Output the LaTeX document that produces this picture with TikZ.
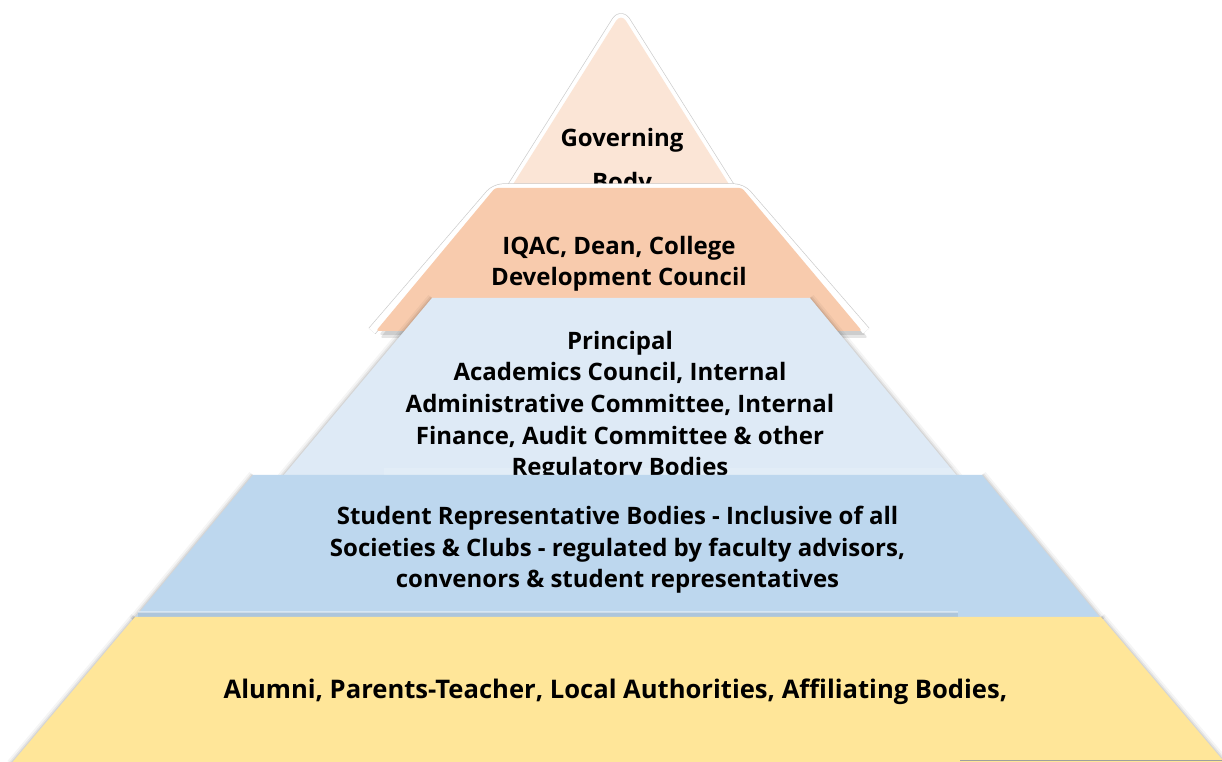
\documentclass[tikz,border=0pt]{standalone}
\usepackage{fontspec}
\IfFontExistsTF{Open Sans SemiBold}{\setmainfont{Open Sans}[BoldFont={Open Sans SemiBold}]}{\setmainfont{Open Sans}}
\definecolor{tricol}{RGB}{251,229,214}
\definecolor{iqaccol}{RGB}{248,203,173}
\definecolor{princol}{RGB}{222,234,246}
\definecolor{studcol}{RGB}{189,215,238}
\definecolor{alumcol}{RGB}{255,230,153}
\tikzset{
  lbl/.style={align=center, inner sep=0pt, text=black, font=\fontsize{18}{23.8}\selectfont\bfseries},
  glowgrey/.style={draw=gray!40, line width=6.8pt, line join=round},
  glowwhite/.style={draw=white, line width=5.8pt, line join=round},
  soft1/.style={draw=black, opacity=0.04, line width=7pt, line cap=butt},
  soft2/.style={draw=black, opacity=0.06, line width=4pt, line cap=butt},
  soft3/.style={draw=black, opacity=0.07, line width=1.8pt, line cap=butt},
}
\begin{document}
\begin{tikzpicture}[x=0.75pt,y=-0.75pt]
\useasboundingbox (0,0) rectangle (1222,762);
\fill[white] (0,0) rectangle (1222,762);

% ---- tier 1 : triangle
\path[glowgrey, rounded corners=7pt] (500,205) -- (621,13) -- (742,205);
\path[glowwhite, rounded corners=7pt] (500,205) -- (621,13) -- (742,205);
\fill[tricol, rounded corners=7pt] (500,205) -- (621,13) -- (742,205) -- cycle;
\node[lbl, font=\fontsize{18}{33}\selectfont\bfseries, anchor=base] (gov) at (622,191) {Governing\\Body};

% ---- tier 2 : IQAC
\fill[black, opacity=0.10, rounded corners=2pt] (379,335) -- (497,192) -- (745,192) -- (866,335) -- cycle;
\fill[black, opacity=0.10, rounded corners=2pt] (380,338) -- (498,194) -- (746,194) -- (868,338) -- cycle;
\path[glowgrey, rounded corners=6pt] (372,331) -- (495,188) -- (742,188) -- (866,331);
\path[glowwhite, rounded corners=6pt] (372,331) -- (495,188) -- (742,188) -- (866,331);
\fill[iqaccol, rounded corners=2pt] (376,331) -- (495,188) -- (742,188) -- (862,331) -- cycle;
\node[lbl, anchor=base] (iqac) at (619,286) {IQAC, Dean, College\\Development Council};

% ---- tier 3 : Principal
\foreach \s in {soft1,soft2,soft3}{
  \path[\s] (278,482) -- (432,298);
  \path[\s] (810,298) -- (962,482);
}
\fill[princol] (278,482) -- (432,298) -- (810,298) -- (962,482) -- cycle;
\fill[white, opacity=0.15] (384,468) rectangle (958,475);
\node[lbl, anchor=base] (prin) at (620,476) {Principal\\Academics Council, Internal\\Administrative Committee, Internal\\Finance, Audit Committee \& other\\Regulatory Bodies};

% ---- tier 4 : Student bodies
\foreach \s in {soft1,soft2,soft3}{
  \path[\s] (133,620) -- (253,475);
  \path[\s] (982,475) -- (1102,620);
}
\fill[studcol] (133,620) -- (253,475) -- (982,475) -- (1102,620) -- cycle;
\fill[black!8!studcol] (138,612) rectangle (958,618);
\draw[white, opacity=0.4, line width=0.8pt] (138,612) -- (958,612);
\node[lbl, anchor=base] (stud) at (617.5,588) {Student Representative Bodies - Inclusive of all\\Societies \& Clubs - regulated by faculty advisors,\\convenors \& student representatives};

% ---- tier 5 : Alumni
\foreach \s in {soft1,soft2,soft3}{
  \path[\s] (11,764) -- (135,617);
  \path[\s] (1101,617) -- (1226,764);
}
\fill[alumcol] (11,764) -- (135,617) -- (1101,617) -- (1226,764) -- cycle;
\node[lbl, font=\fontsize{19.2}{23.8}\selectfont\bfseries, anchor=base] (alum) at (615.5,699) {Alumni, Parents-Teacher, Local Authorities, Affiliating Bodies,};

\coordinate (sa) at (960,760.5);
\coordinate (sb) at (1222,760.5);
\draw[gray!75, line width=1.2pt] (sa) -- (sb);
\end{tikzpicture}
\end{document}
